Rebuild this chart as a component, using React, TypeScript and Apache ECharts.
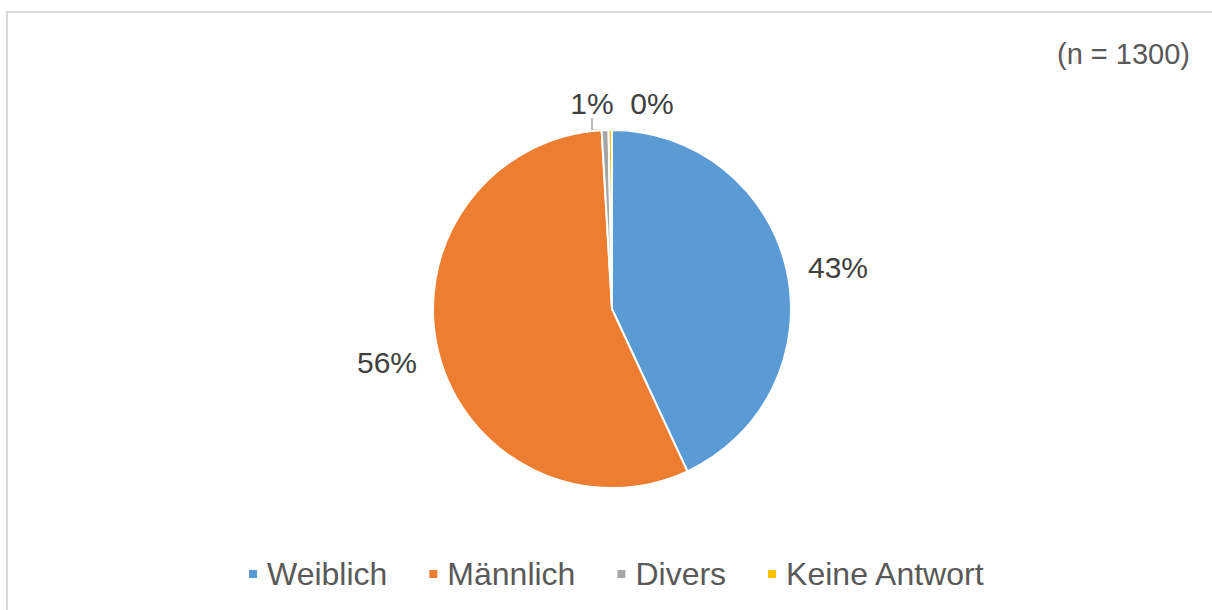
import React, { useEffect, useRef } from "react";
import * as echarts from "echarts";

const categories = ["Weiblich", "Männlich", "Divers", "Keine Antwort"];
const counts = [560, 728, 8, 4];
const colors = ["#5B9BD5", "#ED7D31", "#A5A5A5", "#FFC000"];
const sampleLabel = "(n = 1300)";

// label anchor positions (layout only)
const labelPos: [number, number][] = [
  [838, 267],
  [387, 362],
  [592, 103],
  [652, 103],
];

export default function App() {
  const ref = useRef<HTMLDivElement>(null);
  useEffect(() => {
    if (!ref.current) return;
    const chart = echarts.init(ref.current, undefined, { renderer: "svg" });
    const font = "'Liberation Sans', Arial, sans-serif";
    chart.setOption({
      animation: false,
      backgroundColor: "#ffffff",
      title: {
        text: sampleLabel,
        right: 17,
        top: 34,
        textStyle: { fontSize: 29, fontWeight: "normal", color: "#595959", fontFamily: font },
      },
      legend: {
        bottom: 15,
        left: 242,
        icon: "rect",
        itemWidth: 10,
        itemHeight: 10,
        itemGap: 40,
        textStyle: { fontSize: 32, color: "#595959", fontFamily: font, padding: [0, 0, 0, 4] },
        data: categories,
      },
      graphic: [
        { type: "rect", shape: { x: 6, y: 11, width: 1210, height: 2 }, style: { fill: "#d9d9d9" } },
        { type: "rect", shape: { x: 6, y: 11, width: 2, height: 600 }, style: { fill: "#d9d9d9" } },
      ],
      series: [
        {
          type: "pie",
          center: [612, 309],
          radius: [0, 179],
          startAngle: 90,
          clockwise: true,
          percentPrecision: 0,
          itemStyle: { borderColor: "#ffffff", borderWidth: 2 },
          label: {
            show: true,
            formatter: "{d}%",
            fontSize: 30,
            color: "#404040",
            fontFamily: font,
            position: "outside",
          },
          labelLine: { show: false, lineStyle: { color: "#A5A5A5", width: 1.5 } },
          labelLayout: (p: any) => ({
            x: labelPos[p.dataIndex][0],
            y: labelPos[p.dataIndex][1],
            align: "center",
            verticalAlign: "middle",
          }),
          data: categories.map((name, i) => ({
            name,
            value: counts[i],
            itemStyle: { color: colors[i] },
            labelLine: { show: i === 2 },
          })),
        },
      ],
    });
    return () => chart.dispose();
  }, []);
  return (
    <div
      ref={ref}
      style={{ position: "absolute", left: 0, top: 0, width: 1212, height: 610 }}
    />
  );
}
